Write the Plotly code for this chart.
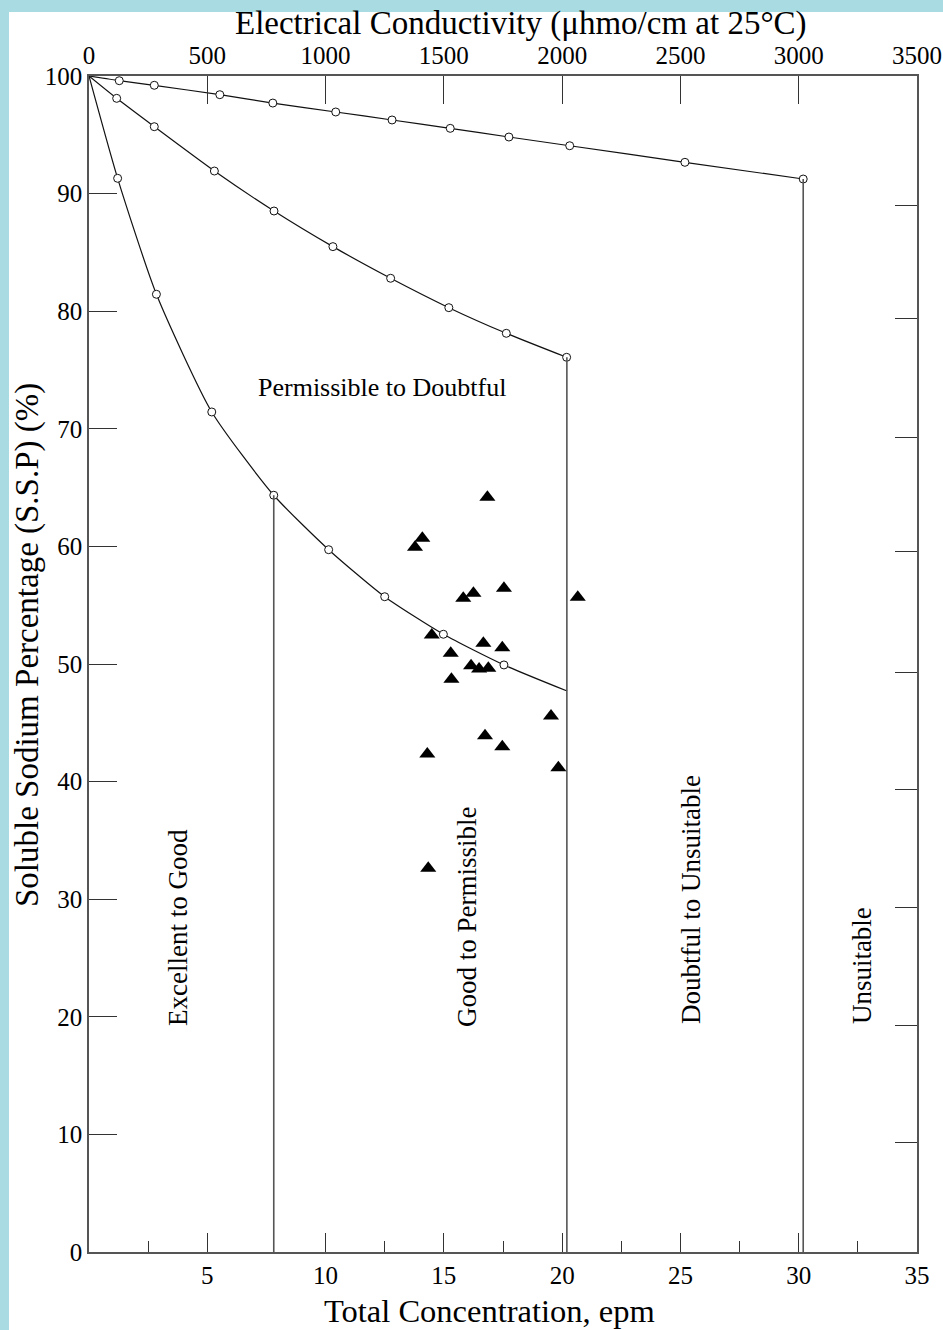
import plotly.graph_objects as go

# ---- curve data: Total concentration (epm) vs Soluble Sodium Percentage (%)
top_x = [0, 1.28, 2.76, 5.53, 7.77, 10.43, 12.81, 15.27, 17.75, 20.32, 25.19, 30.19]
top_y = [100, 99.60, 99.21, 98.41, 97.70, 96.94, 96.26, 95.55, 94.81, 94.07, 92.66, 91.24]
mid_x = [0, 1.17, 2.76, 5.30, 7.82, 10.31, 12.75, 15.21, 17.64, 20.19]
mid_y = [100, 98.10, 95.69, 91.92, 88.52, 85.49, 82.80, 80.30, 78.12, 76.08]
low_x = [0, 1.21, 2.85, 5.19, 7.81, 10.13, 12.50, 14.98, 17.54, 20.21]
low_y = [100, 91.30, 81.44, 71.43, 64.35, 59.72, 55.72, 52.53, 49.92, 47.70]

# class boundaries (vertical lines): x position and top end
bound_x = [7.81, 20.20, 30.19]
bound_top = [64.35, 76.08, 91.24]

# water samples
samp_x = [16.84, 14.09, 13.78, 16.25, 15.82, 17.54, 20.66, 14.49, 16.67, 17.47, 15.29,
          16.15, 16.49, 16.88, 15.32, 19.53, 16.74, 17.47, 14.30, 19.84, 14.34]
samp_y = [64.18, 60.69, 59.92, 56.01, 55.59, 56.44, 55.67, 52.47, 51.76, 51.39, 50.91,
          49.86, 49.57, 49.63, 48.70, 45.58, 43.90, 42.97, 42.35, 41.18, 32.63]

# ticks
x_ticks = [5, 10, 15, 20, 25, 30, 35]
x_minor = [2.5, 12.5, 17.5, 22.5, 27.5, 32.5]
ec_ticks = [0, 500, 1000, 1500, 2000, 2500, 3000, 3500]
y_ticks = [0, 10, 20, 30, 40, 50, 60, 70, 80, 90, 100]
y_right_ticks = [9.3, 19.3, 29.3, 39.3, 49.3, 59.6, 69.3, 79.4, 89.0]

# region labels
region_labels = ["Permissible to Doubtful", "Excellent to Good", "Good to Permissible",
                 "Doubtful to Unsuitable", "Unsuitable"]
region_x = [12.39, 3.76, 15.98, 25.45, 32.68]
region_y = [73.55, 27.64, 28.49, 29.93, 24.32]
region_angle = [0, -90, -90, -90, -90]
region_size = [26, 27, 27, 27, 27]

FONT = "Liberation Serif, Times New Roman, serif"
BLUE = "#a9dbe3"
W, H = 943, 1330
L, R, T, B = 89, 26, 76, 78
PW, PH = W - L - R, H - T - B


def px_x(p):
    return (p - L) / PW


def px_y(p):
    return (H - B - p) / PH


fig = go.Figure()

line_style = dict(color="#111", width=1.2)
circ = dict(symbol="circle", size=8, color="white", line=dict(color="#111", width=1))

for xs, ys, mark_slice in [(top_x, top_y, slice(1, None)),
                           (mid_x, mid_y, slice(1, None)),
                           (low_x, low_y, slice(1, -1))]:
    fig.add_trace(go.Scatter(x=xs, y=ys, mode="lines",
                             line=dict(shape="spline", smoothing=0.6, **line_style),
                             hoverinfo="skip", showlegend=False))
    fig.add_trace(go.Scatter(x=xs[mark_slice], y=ys[mark_slice], mode="markers", marker=circ,
                             showlegend=False))

for bx, bt in zip(bound_x, bound_top):
    fig.add_trace(go.Scatter(x=[bx, bx], y=[0, bt], mode="lines",
                             line=dict(color="#555", width=1.6), showlegend=False, hoverinfo="skip"))

fig.add_trace(go.Scatter(x=samp_x, y=samp_y, mode="markers",
                         marker=dict(symbol="triangle-up", size=14, color="black", line=dict(width=0)),
                         showlegend=False))

# top EC axis dummy trace
fig.add_trace(go.Scatter(x=[0, 3500], y=[None, None], xaxis="x2", yaxis="y", mode="markers",
                         showlegend=False, hoverinfo="skip"))
# right axis dummy trace
fig.add_trace(go.Scatter(x=[None], y=[None], xaxis="x", yaxis="y2", mode="markers",
                         showlegend=False, hoverinfo="skip"))

axis_common = dict(showgrid=False, zeroline=False, showline=True, linecolor="#555", linewidth=1.6,
                   tickcolor="#333", tickwidth=1.3, ticks="inside", automargin=False,
                   tickfont=dict(family=FONT, size=25, color="black"))

for txt, xx, yy, ang, sz in zip(region_labels, region_x, region_y, region_angle, region_size):
    fig.add_annotation(x=xx, y=yy, xref="x", yref="y", text=txt, textangle=ang, showarrow=False,
                       xanchor="center", yanchor="middle",
                       font=dict(family=FONT, size=sz, color="black"))

fig.add_annotation(x=px_x(521), y=px_y(23), xref="paper", yref="paper",
                   text="Electrical Conductivity (μhmo/cm at 25°C)", showarrow=False,
                   xanchor="center", yanchor="middle",
                   font=dict(family=FONT, size=33, color="black"))
fig.add_annotation(x=px_x(489), y=px_y(1311), xref="paper", yref="paper",
                   text="Total Concentration, epm", showarrow=False,
                   xanchor="center", yanchor="middle",
                   font=dict(family=FONT, size=32.5, color="black"))
fig.add_annotation(x=px_x(27), y=px_y(645), xref="paper", yref="paper",
                   text="Soluble Sodium Percentage (S.S.P) (%)", textangle=-90, showarrow=False,
                   xanchor="center", yanchor="middle",
                   font=dict(family=FONT, size=33, color="black"))

# white sheet over light blue background
fig.add_shape(type="rect", xref="paper", yref="paper", layer="below",
              x0=px_x(9), x1=px_x(W + 5), y0=px_y(H + 5), y1=px_y(12),
              fillcolor="white", line=dict(width=0))

fig.update_layout(
    width=W, height=H, autosize=False,
    margin=dict(l=L, r=R, t=T, b=B),
    paper_bgcolor=BLUE, plot_bgcolor="white",
    showlegend=False,
    xaxis=dict(range=[0, 35], tickvals=x_ticks, ticklen=19,
               minor=dict(tickvals=x_minor, ticklen=11, ticks="inside", tickcolor="#333", tickwidth=1.3),
               **axis_common),
    xaxis2=dict(range=[0, 3500], overlaying="x", side="top", tickvals=ec_ticks, ticklen=28,
                **axis_common),
    yaxis=dict(range=[0, 100], tickvals=y_ticks, ticklen=28, **axis_common),
    yaxis2=dict(range=[0, 100], overlaying="y", side="right", tickvals=y_right_ticks, ticklen=22,
                showticklabels=False, **axis_common),
)

fig.write_html("out.html",
               config={"responsive": False, "displayModeBar": False},
               post_script="document.body.style.margin='0';document.body.style.overflow='hidden';"
                           "document.body.style.background='" + BLUE + "';")
